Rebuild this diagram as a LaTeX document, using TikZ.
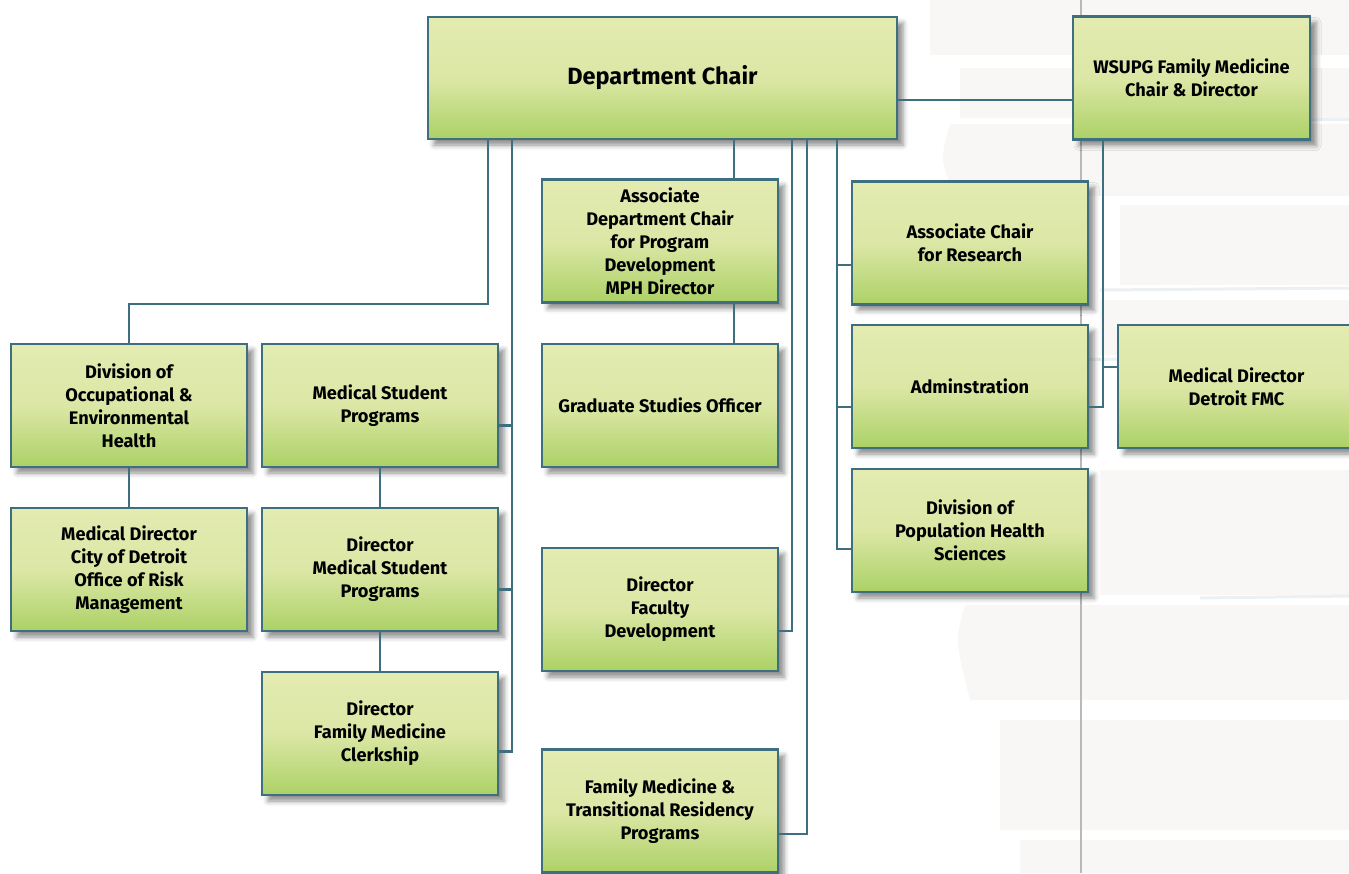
\documentclass[tikz,border=0pt]{standalone}
\usepackage{fontspec}
\setmainfont{Fira Sans}
\usetikzlibrary{calc,shadows.blur}
\definecolor{boxtop}{HTML}{E3EBB1}
\definecolor{boxmid}{HTML}{DCE7A6}
\definecolor{boxbot}{HTML}{ACD166}
\definecolor{linec}{HTML}{3E6F80}
\definecolor{bookc}{HTML}{E6E3DE}
\definecolor{bookedge}{HTML}{D3DEE4}
\tikzset{
  orgbox/.style={draw=linec, line width=2.2pt, top color=boxtop, bottom color=boxbot, middle color=boxmid,
    minimum width=236pt, minimum height=123pt, inner sep=2pt, align=center,
    font=\fontsize{18.2}{23}\selectfont\bfseries,
    blur shadow={shadow xshift=6pt, shadow yshift=-6pt, shadow blur radius=5pt, shadow opacity=45}},
  link/.style={draw=linec, line width=2.2pt},
  book/.style={fill=bookc, opacity=0.28, draw=none},
  bookline/.style={draw=bookedge, line width=3pt, opacity=0.45}
}
\begin{document}
\begin{tikzpicture}[x=1pt,y=-1pt]
\useasboundingbox (0,0) rectangle (1349,873);
% faint books in the background
\fill[book] (930,0) rectangle (1349,55);
\fill[book] (960,68) rectangle (1349,118);
\fill[book] (950,124) .. controls (940,160) .. (955,196) -- (1349,196) -- (1349,124) -- cycle;
\fill[book] (1120,205) rectangle (1349,285);
\fill[book] (1100,300) rectangle (1349,355);
\fill[book] (1100,470) rectangle (1349,595);
\fill[book] (965,605) .. controls (955,640) .. (970,700) -- (1349,700) -- (1349,605) -- cycle;
\fill[book] (1000,720) rectangle (1349,830);
\fill[book] (1020,840) rectangle (1349,873);
\draw[bookline] (1100,119) -- (1349,119);
\draw[bookline] (1100,290) -- (1349,288);
\draw[bookline] (1200,598) -- (1349,596);
\draw[bookline] (960,360) -- (1349,358);
% vertical separator
\draw[gray!55, line width=1.1pt] (1081,0) -- (1081,873);

% nodes
\node[orgbox, minimum width=469pt, minimum height=122pt, font=\fontsize{23.5}{26}\selectfont\bfseries] (chair) at (662.5,78) {Department Chair};
\node[orgbox, minimum width=237pt] (wsupg) at (1191.5,78) {WSUPG Family Medicine\\Chair \& Director};
\node[orgbox] (assocdept) at (660,241) {Associate\\Department Chair\\for Program\\Development\\MPH Director};
\node[orgbox] (research) at (970,243) {Associate Chair\\for Research};
\node[orgbox] (divocc) at (129,405.5) {Division of\\Occupational \&\\Environmental\\Health};
\node[orgbox] (msp) at (380,405.5) {Medical Student\\Programs};
\node[orgbox] (grad) at (660,405.5) {Graduate Studies Officer};
\node[orgbox] (admin) at (970,386.5) {Adminstration};
\node[orgbox, minimum width=237pt] (fmc) at (1236.5,386.5) {Medical Director\\Detroit FMC};
\node[orgbox] (citydet) at (129,569.5) {Medical Director\\City of Detroit\\Office of Risk\\Management};
\node[orgbox] (dirmsp) at (380,569.5) {Director\\Medical Student\\Programs};
\node[orgbox] (pophealth) at (970,530.5) {Division of\\Population Health\\Sciences};
\node[orgbox] (facdev) at (660,609.5) {Director\\Faculty\\Development};
\node[orgbox] (clerk) at (380,733.5) {Director\\Family Medicine\\Clerkship};
\node[orgbox] (resid) at (660,811) {Family Medicine \&\\Transitional Residency\\Programs};

% connector roots
\coordinate (t1) at ([xshift=61pt]chair.south west);
\coordinate (t2) at ([xshift=85pt]chair.south west);
\coordinate (t3) at ([xshift=307pt]chair.south west);
\coordinate (t4) at ([xshift=365pt]chair.south west);
\coordinate (t5) at ([xshift=380pt]chair.south west);
\coordinate (t6) at ([xshift=410pt]chair.south west);
\coordinate (w1) at ([xshift=31pt]wsupg.south west);

\draw[link] ([yshift=-22pt]chair.east) -- ([yshift=-22pt]wsupg.west);
\draw[link] (t1) -- ++(0,164) -| (divocc.north);
\draw[link] (divocc) -- (citydet);
\draw[link] (t2) |- ([yshift=-18pt]clerk.east);
\draw[link] ([yshift=-20pt]msp.east) -| (t2);
\draw[link] ([yshift=-20pt]dirmsp.east) -| (t2);
\draw[link] (msp) -- (dirmsp);
\draw[link] (dirmsp) -- (clerk);
\draw[link] (t3) -- (t3 |- assocdept.north);
\draw[link] ([xshift=193pt]assocdept.south west) -- ([xshift=193pt]grad.north west);
\draw[link] (t4) |- ([yshift=-21.5pt]facdev.east);
\draw[link] (t5) |- ([yshift=-23pt]resid.east);
\draw[link] (t6) |- ([yshift=-18.5pt]pophealth.west);
\draw[link] ([yshift=-22pt]research.west) -| (t6);
\draw[link] ([yshift=-20.5pt]admin.west) -| (t6);
\draw[link] (w1) |- ([yshift=-20.5pt]admin.east);
\draw[link] ([yshift=19.5pt]fmc.west) -| (w1);
\end{tikzpicture}
\end{document}
